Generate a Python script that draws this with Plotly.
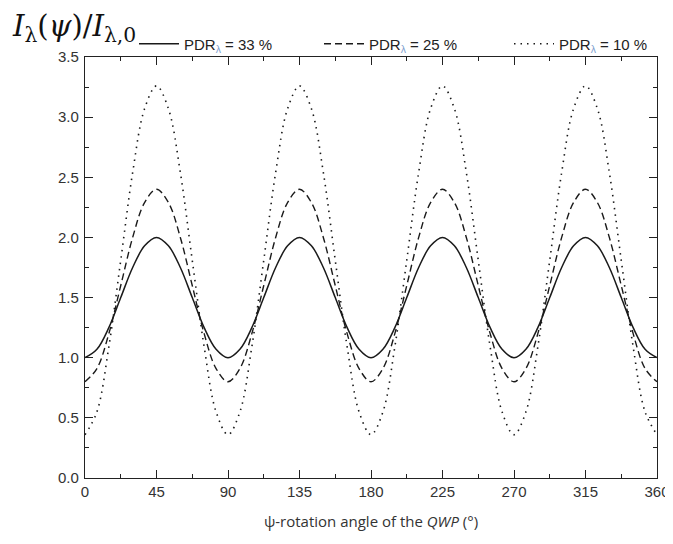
import plotly.graph_objects as go

# Rotation angle of the QWP (degrees)
psi = [0, 7.5, 15, 22.5, 30, 37.5, 45, 52.5, 60, 67.5, 75, 82.5,
       90, 97.5, 105, 112.5, 120, 127.5, 135, 142.5, 150, 157.5, 165, 172.5,
       180, 187.5, 195, 202.5, 210, 217.5, 225, 232.5, 240, 247.5, 255, 262.5,
       270, 277.5, 285, 292.5, 300, 307.5, 315, 322.5, 330, 337.5, 345, 352.5, 360]

pdr33 = [1.00, 1.07, 1.25, 1.50, 1.75, 1.93, 2.00, 1.93, 1.75, 1.50, 1.25, 1.07,
         1.00, 1.07, 1.25, 1.50, 1.75, 1.93, 2.00, 1.93, 1.75, 1.50, 1.25, 1.07,
         1.00, 1.07, 1.25, 1.50, 1.75, 1.93, 2.00, 1.93, 1.75, 1.50, 1.25, 1.07,
         1.00, 1.07, 1.25, 1.50, 1.75, 1.93, 2.00, 1.93, 1.75, 1.50, 1.25, 1.07, 1.00]

pdr25 = [0.80, 0.91, 1.20, 1.60, 2.00, 2.29, 2.40, 2.29, 2.00, 1.60, 1.20, 0.91,
         0.80, 0.91, 1.20, 1.60, 2.00, 2.29, 2.40, 2.29, 2.00, 1.60, 1.20, 0.91,
         0.80, 0.91, 1.20, 1.60, 2.00, 2.29, 2.40, 2.29, 2.00, 1.60, 1.20, 0.91,
         0.80, 0.91, 1.20, 1.60, 2.00, 2.29, 2.40, 2.29, 2.00, 1.60, 1.20, 0.91, 0.80]

pdr10 = [0.36, 0.55, 1.09, 1.81, 2.54, 3.07, 3.26, 3.07, 2.54, 1.81, 1.09, 0.55,
         0.36, 0.55, 1.09, 1.81, 2.54, 3.07, 3.26, 3.07, 2.54, 1.81, 1.09, 0.55,
         0.36, 0.55, 1.09, 1.81, 2.54, 3.07, 3.26, 3.07, 2.54, 1.81, 1.09, 0.55,
         0.36, 0.55, 1.09, 1.81, 2.54, 3.07, 3.26, 3.07, 2.54, 1.81, 1.09, 0.55, 0.36]

series_names = ["PDR<sub><span style='color:#7f9fcf'>λ</span></sub> = 33 %",
                "PDR<sub><span style='color:#7f9fcf'>λ</span></sub> = 25 %",
                "PDR<sub><span style='color:#7f9fcf'>λ</span></sub> = 10 %"]

x_ticks = [0, 45, 90, 135, 180, 225, 270, 315, 360]
y_ticks = [0.0, 0.5, 1.0, 1.5, 2.0, 2.5, 3.0, 3.5]

W, H = 665, 536  # page adds an 8px body margin

fig = go.Figure()
styles = [("solid", 1.5), ("7px,4px", 1.4), ("1.5px,5px", 1.6)]
legend_ids = ["legend", "legend2", "legend3"]
for ys, name, (dash, w), lg in zip([pdr33, pdr25, pdr10], series_names, styles, legend_ids):
    fig.add_trace(go.Scatter(x=psi, y=ys, mode="lines", name=name, legend=lg,
                             line=dict(color="#1a1a1a", width=w, dash=dash, shape="spline", smoothing=1.0)))

axis_common = dict(showline=True, linecolor="#222", linewidth=1.3, mirror="allticks",
                   ticks="inside", ticklen=8, tickwidth=1.3, tickcolor="#222",
                   showgrid=False, zeroline=False, automargin=False,
                   tickfont=dict(family="Liberation Sans, Arial", size=15, color="#333"))

fig.update_xaxes(range=[0, 360], tickvals=x_ticks, ticktext=[str(v) for v in x_ticks],
                 minor=dict(tickvals=[22.5 + 45 * i for i in range(8)], ticklen=4, ticks="inside",
                            tickcolor="#222", tickwidth=1.2),
                 title=dict(text="ψ-rotation angle of the <i>QWP</i> (°)",
                            font=dict(family="Open Sans, Lato", size=15, color="#333"), standoff=17),
                 **axis_common)
fig.update_yaxes(range=[0, 3.5], tickvals=y_ticks, ticktext=[f"{v:.1f}" for v in y_ticks],
                 minor=dict(tickvals=[0.25 + 0.5 * i for i in range(7)], ticklen=4, ticks="inside",
                            tickcolor="#222", tickwidth=1.2),
                 ticklabelstandoff=2,
                 **axis_common)

fig.add_annotation(text="<i>I</i><sub>λ</sub>(<i>ψ</i>)/<i>I</i><sub>λ,0</sub>",
                   xref="paper", yref="paper", x=-(85 - 11) / 572, y=1 + 49 / 421,
                   xanchor="left", yanchor="top", borderpad=0,
                   showarrow=False, font=dict(family="DejaVu Serif, Liberation Serif", size=29, color="#111"))

ly = 1 - (44 - 8) / H
leg_common = dict(orientation="h", xref="container", yref="container", yanchor="middle",
                  xanchor="left", itemwidth=40, bgcolor="rgba(0,0,0,0)",
                  font=dict(family="Liberation Sans, Arial", size=15, color="#222"))

fig.update_layout(
    width=W, height=H,
    margin=dict(l=77, r=16, t=49, b=66, autoexpand=False),
    paper_bgcolor="white", plot_bgcolor="white",
    showlegend=True,
    legend=dict(x=126 / W, y=ly, **leg_common),
    legend2=dict(x=311 / W, y=ly, **leg_common),
    legend3=dict(x=501 / W, y=ly, **leg_common),
)

fig.write_html("out.html")
